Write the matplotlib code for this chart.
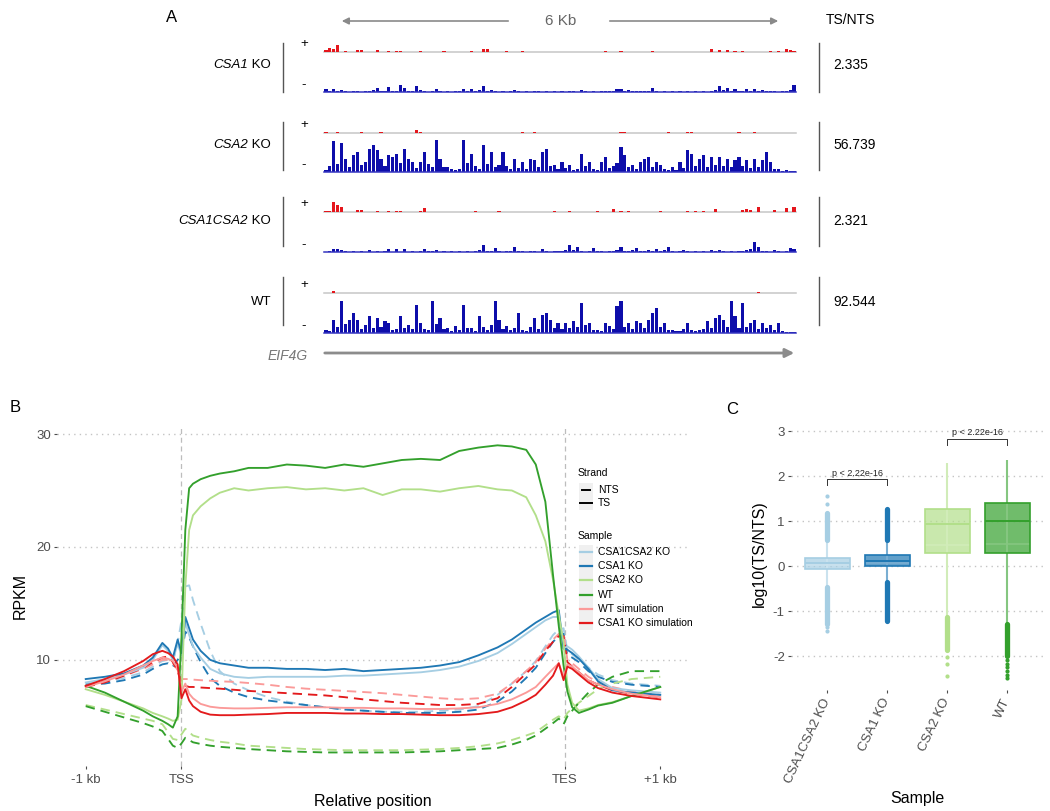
import numpy as np
import matplotlib
matplotlib.use('Agg')
import matplotlib.pyplot as plt
from matplotlib.patches import Rectangle, FancyArrowPatch
from matplotlib.lines import Line2D

plt.rcParams['font.family'] = ['Liberation Sans', 'DejaVu Sans']
plt.rcParams['axes.unicode_minus'] = False

W, H = 1050, 811

# ---------------- panel A: coverage tracks (120 bins over 6 kb) ----------------
# (italic gene part, plain part)
track_names = [('CSA1', ' KO'), ('CSA2', ' KO'), ('CSA1CSA2', ' KO'), ('', 'WT')]
ts_nts_ratio = ['2.335', '56.739', '2.321', '92.544']

plus_csa1 = {0: 2, 1: 4, 2: 3, 3: 7, 5: 1.5, 8: 2, 9: 2, 13: 2, 16: 1.5, 18: 1.5, 19: 1.5, 24: 1.5,
             30: 1.5, 37: 1.5, 40: 3, 41: 3, 46: 1, 50: 1, 71: 1.5, 75: 1.5, 83: 1, 98: 3, 100: 2,
             102: 2, 104: 1, 106: 1, 113: 1, 115: 1.5, 117: 3, 118: 2, 119: 1}
plus_csa2 = {0: 1, 3: 1, 9: 1, 14: 1, 23: 3, 24: 1.5, 50: 1, 53: 1, 75: 1.5, 76: 1, 87: 1,
             92: 1.5, 93: 1, 105: 1, 109: 1}
plus_csa1csa2 = {0: 1, 1: 1, 2: 10, 3: 7, 4: 5, 8: 2, 9: 2, 13: 1, 16: 1, 18: 1, 19: 1, 24: 1,
                 25: 4, 38: 1, 44: 1, 58: 1, 62: 1, 69: 1, 73: 3, 75: 1, 77: 1, 85: 1, 92: 1,
                 94: 1, 96: 1, 99: 3, 106: 2, 107: 3, 108: 1.5, 110: 5, 114: 1.5, 117: 4, 119: 5}
plus_wt = {2: 2, 110: 1.5}

minus_csa1 = [3, 1, 3, 1, 2, 1, 0, 1, 1, 0, 1, 1, 2, 4, 1, 1, 5, 1, 1, 7,
              4, 1, 1, 6, 2, 1, 0, 1, 3, 1, 0, 1, 0, 1, 1, 3, 1, 3, 1, 2,
              6, 1, 2, 1, 0, 1, 0, 1, 2, 1, 0, 1, 0, 1, 1, 0, 1, 0, 1, 0,
              1, 0, 1, 1, 0, 2, 1, 0, 1, 0, 1, 1, 1, 1, 3, 3, 1, 2, 1, 1,
              1, 1, 1, 4, 1, 0, 1, 0, 1, 0, 1, 0, 1, 0, 1, 0, 1, 0, 1, 2,
              6, 2, 4, 1, 3, 1, 1, 3, 1, 3, 1, 2, 1, 1, 1, 0, 1, 1, 2, 7]
minus_csa2 = [2, 6, 31, 8, 29, 13, 5, 17, 20, 7,
              10, 23, 27, 22, 13, 6, 17, 15, 18, 9,
              23, 13, 10, 4, 10, 20, 8, 5, 32, 13,
              5, 5, 3, 2, 3, 32, 9, 18, 6, 3,
              27, 8, 20, 5, 7, 20, 6, 3, 13, 4,
              10, 3, 13, 12, 5, 20, 23, 6, 7, 3,
              10, 4, 7, 2, 3, 18, 6, 10, 3, 2,
              10, 15, 4, 6, 9, 25, 17, 5, 7, 3,
              10, 13, 15, 5, 10, 7, 3, 2, 5, 2,
              10, 4, 22, 18, 6, 13, 17, 5, 15, 7,
              15, 6, 13, 5, 12, 15, 6, 12, 4, 13,
              5, 12, 20, 10, 3, 3, 1, 2, 1, 1]
minus_csa1csa2 = [0, 1, 3, 3, 2, 1, 0, 1, 0, 1, 0, 2, 0, 1, 0, 1, 3, 0, 3, 0,
                  3, 0, 1, 0, 1, 3, 1, 1, 2, 0, 1, 0, 1, 0, 1, 0, 1, 0, 1, 2,
                  7, 1, 1, 4, 1, 0, 1, 1, 5, 1, 1, 0, 1, 1, 0, 3, 1, 0, 1, 1,
                  1, 2, 7, 2, 5, 1, 0, 1, 4, 1, 1, 0, 1, 1, 2, 5, 1, 1, 2, 4,
                  1, 1, 2, 1, 3, 1, 2, 5, 1, 0, 1, 2, 1, 0, 1, 0, 1, 0, 2, 1,
                  2, 1, 0, 1, 0, 1, 1, 2, 3, 10, 5, 1, 1, 0, 2, 1, 0, 1, 4, 3]
minus_wt = [3, 2, 13, 6, 32, 9, 13, 20, 13, 4,
            8, 17, 5, 15, 6, 12, 10, 3, 4, 17,
            5, 8, 4, 28, 10, 4, 3, 32, 9, 15,
            4, 5, 2, 7, 3, 28, 5, 5, 2, 17,
            6, 3, 8, 32, 13, 4, 7, 3, 5, 20,
            3, 2, 6, 15, 4, 18, 20, 13, 5, 10,
            4, 10, 5, 12, 6, 30, 8, 10, 3, 3,
            2, 10, 7, 4, 27, 32, 6, 10, 4, 12,
            10, 5, 13, 20, 25, 6, 10, 3, 3, 2,
            2, 4, 10, 3, 2, 3, 4, 12, 5, 15,
            18, 13, 6, 32, 17, 5, 30, 6, 10, 13,
            4, 10, 5, 8, 3, 10, 2, 1, 1, 1]

plus_tracks = [plus_csa1, plus_csa2, plus_csa1csa2, plus_wt]
minus_tracks = [minus_csa1, minus_csa2, minus_csa1csa2, minus_wt]

# ---------------- panel B: metagene profiles ----------------
x_pos = [-1.0, -0.8, -0.6, -0.4, -0.3, -0.2, -0.14, -0.09, -0.04, 0.0, 0.04, 0.08, 0.12, 0.2,
         0.3, 0.4, 0.55, 0.7, 0.9, 1.1, 1.3, 1.5, 1.7, 1.9, 2.1, 2.3, 2.5, 2.7, 2.9, 3.1,
         3.3, 3.45, 3.6, 3.7, 3.8, 3.88, 3.94, 3.99, 4.03, 4.08, 4.15, 4.25, 4.35, 4.5, 4.7, 5.0]

ts_csa1csa2 = [8.0, 8.3, 8.7, 9.3, 10.0, 11.3, 10.8, 10.0, 11.4, 10.4, 13.3, 12.2, 11.2, 10.2,
               9.2, 8.8, 8.5, 8.4, 8.5, 8.5, 8.5, 8.5, 8.6, 8.6, 8.7, 8.8, 8.9, 9.1, 9.4, 9.9,
               10.6, 11.4, 12.3, 12.9, 13.5, 13.8, 13.8, 11.0, 11.2, 10.9, 10.3, 9.3, 8.3, 7.5, 7.3, 7.1]
nts_csa1csa2 = [7.9, 8.1, 8.4, 8.9, 9.4, 9.9, 10.0, 9.8, 11.5, 13.5, 16.5, 16.6, 15.3, 13.2,
                10.8, 9.0, 7.9, 7.3, 6.7, 6.3, 6.0, 5.8, 5.6, 5.5, 5.4, 5.4, 5.4, 5.5, 5.6, 5.9,
                6.9, 7.9, 9.0, 9.9, 11.2, 12.2, 12.7, 12.8, 10.8, 10.5, 10.0, 9.3, 8.7, 8.2, 7.9, 7.7]
ts_csa1 = [8.3, 8.5, 8.8, 9.5, 10.2, 11.5, 11.0, 10.2, 11.8, 10.6, 13.8, 12.8, 11.8, 10.8,
           10.0, 9.7, 9.5, 9.3, 9.3, 9.2, 9.2, 9.1, 9.2, 9.0, 9.1, 9.2, 9.3, 9.5, 9.8, 10.4,
           11.1, 11.8, 12.7, 13.3, 13.8, 14.2, 14.4, 11.0, 10.9, 10.6, 10.1, 9.2, 8.1, 7.3, 7.1, 6.9]
nts_csa1 = [7.8, 7.9, 8.2, 8.7, 9.2, 9.6, 9.7, 9.4, 10.0, 10.5, 12.5, 12.0, 11.2, 9.8,
            8.4, 7.7, 7.1, 6.7, 6.4, 6.2, 6.0, 5.8, 5.6, 5.5, 5.4, 5.3, 5.3, 5.3, 5.4, 5.6,
            6.3, 7.2, 8.4, 9.3, 10.6, 11.6, 12.1, 12.3, 10.4, 10.2, 9.8, 9.0, 8.5, 8.05, 7.8, 7.6]
ts_csa2 = [7.4, 6.9, 6.3, 5.7, 5.3, 5.0, 4.8, 4.6, 4.7, 6.5, 16.5, 21.5, 22.8, 23.6,
           24.3, 24.8, 25.2, 25.0, 25.2, 25.3, 25.1, 25.2, 25.0, 25.2, 24.6, 25.1, 25.1, 24.9, 25.2, 25.4,
           25.1, 25.0, 24.4, 22.8, 20.5, 17.1, 14.0, 11.5, 7.8, 6.2, 5.5, 5.7, 6.0, 6.25, 6.8, 7.6]
nts_csa2 = [6.0, 5.6, 5.2, 4.8, 4.6, 4.3, 3.6, 3.0, 2.9, 3.4, 3.9, 3.6, 3.3, 3.1,
            2.9, 2.75, 2.6, 2.4, 2.3, 2.2, 2.1, 2.05, 2.0, 2.0, 2.0, 2.0, 2.05, 2.1, 2.2, 2.35,
            2.6, 2.9, 3.3, 3.6, 4.2, 4.7, 5.0, 4.7, 5.3, 5.7, 6.2, 6.8, 7.4, 7.9, 8.3, 8.5]
ts_wt = [7.7, 7.1, 6.3, 5.5, 5.0, 4.6, 4.3, 4.0, 5.0, 12.0, 21.5, 25.2, 25.6, 26.0,
         26.3, 26.5, 26.7, 27.0, 27.0, 27.3, 27.2, 27.0, 27.3, 27.1, 27.4, 27.7, 27.8, 27.7, 28.5, 28.8,
         29.0, 28.9, 28.6, 27.3, 24.0, 17.5, 13.0, 9.5, 7.2, 5.8, 5.3, 5.6, 5.95, 6.2, 6.8, 7.6]
nts_wt = [5.9, 5.4, 4.9, 4.4, 4.1, 3.7, 3.0, 2.4, 2.2, 2.6, 3.1, 2.9, 2.7, 2.55,
          2.4, 2.3, 2.2, 2.1, 2.0, 1.9, 1.85, 1.8, 1.8, 1.8, 1.8, 1.8, 1.85, 1.9, 2.0, 2.1,
          2.2, 2.5, 2.9, 3.3, 3.9, 4.4, 4.8, 4.3, 5.0, 5.5, 6.2, 7.1, 7.8, 8.5, 9.0, 9.0]
ts_wt_sim = [7.6, 8.1, 8.7, 9.5, 9.9, 10.2, 10.1, 9.9, 9.3, 7.2, 7.9, 7.0, 6.6, 6.1,
             5.85, 5.75, 5.7, 5.7, 5.75, 5.8, 5.8, 5.8, 5.75, 5.75, 5.7, 5.7, 5.65, 5.65, 5.7, 5.8,
             6.1, 6.5, 7.1, 7.6, 8.5, 9.2, 9.7, 8.5, 9.6, 9.4, 8.9, 8.2, 7.8, 7.4, 7.0, 6.7]
nts_wt_sim = [7.7, 8.1, 8.6, 9.2, 9.6, 10.0, 10.0, 9.7, 9.1, 8.3, 8.3, 8.3, 8.25, 8.2,
              8.15, 8.1, 8.05, 7.95, 7.8, 7.6, 7.45, 7.35, 7.25, 7.15, 7.05, 6.9, 6.75, 6.6, 6.5, 6.6,
              7.0, 7.9, 9.0, 9.8, 11.0, 11.8, 12.3, 12.4, 10.0, 9.7, 9.2, 8.5, 8.0, 7.6, 7.2, 6.9]
ts_csa1_sim = [7.7, 8.3, 9.0, 9.9, 10.5, 10.8, 10.6, 10.3, 9.6, 6.6, 7.4, 6.4, 5.9, 5.4,
               5.15, 5.1, 5.1, 5.15, 5.2, 5.3, 5.3, 5.3, 5.25, 5.25, 5.2, 5.2, 5.15, 5.1, 5.1, 5.2,
               5.4, 5.8, 6.4, 6.9, 7.8, 8.6, 9.7, 8.2, 9.4, 9.2, 8.7, 8.0, 7.5, 7.1, 6.8, 6.5]
nts_csa1_sim = [7.6, 8.0, 8.6, 9.3, 9.8, 10.2, 10.3, 9.8, 9.0, 8.0, 7.7, 7.6, 7.6, 7.55,
                7.5, 7.45, 7.35, 7.25, 7.15, 7.05, 6.95, 6.85, 6.7, 6.5, 6.35, 6.2, 6.1, 6.0, 6.0, 6.1,
                6.6, 7.6, 8.8, 9.6, 10.8, 11.6, 12.1, 12.1, 9.8, 9.4, 8.9, 8.2, 7.8, 7.3, 7.0, 6.7]

b_samples = ['CSA1CSA2 KO', 'CSA1 KO', 'CSA2 KO', 'WT', 'WT simulation', 'CSA1 KO simulation']
b_colors = ['#A6CEE3', '#1F78B4', '#B2DF8A', '#33A02C', '#FB9A99', '#E31A1C']
b_ts = [ts_csa1csa2, ts_csa1, ts_csa2, ts_wt, ts_wt_sim, ts_csa1_sim]
b_nts = [nts_csa1csa2, nts_csa1, nts_csa2, nts_wt, nts_wt_sim, nts_csa1_sim]

# ---------------- panel C: log10(TS/NTS) boxplots ----------------
c_samples = ['CSA1CSA2 KO', 'CSA1 KO', 'CSA2 KO', 'WT']
c_colors = ['#A6CEE3', '#1F78B4', '#B2DF8A', '#33A02C']
box_q1 = [-0.07, 0.00, 0.30, 0.30]
box_med = [0.07, 0.11, 0.93, 1.00]
box_q3 = [0.19, 0.24, 1.27, 1.40]
box_inner = [0.03, 0.06, 0.48, 0.50]
whisk_lo = [-0.45, -0.35, -1.12, -1.28]
whisk_hi = [0.57, 0.57, 2.28, 2.35]
band_hi = [(0.58, 1.19), (0.58, 1.26), None, None]
band_lo = [(-1.28, -0.46), (-1.21, -0.36), (-1.86, -1.13), (-2.0, -1.29)]
sparse_fliers = [[1.37, 1.55, -1.36, -1.43],
                 [],
                 [-2.02, -2.18, -2.44],
                 [-2.09, -2.18, -2.25, -2.33, -2.41, -2.49]]
sig_pairs = [(1, 2), (3, 4)]
sig_y = [1.93, 2.83]
sig_label = 'p < 2.22e-16'


def mix_white(c, f):
    r, g, b = matplotlib.colors.to_rgb(c)
    return (r + (1 - r) * f, g + (1 - g) * f, b + (1 - b) * f)


def fx(px):
    return px / W


def fy(py):
    return 1 - py / H


def ftext(x, y, s, **kw):
    return fig.text(fx(x), fy(y), s, **kw)


def fline(xs, ys, **kw):
    fig.add_artist(Line2D([fx(v) for v in xs], [fy(v) for v in ys], **kw))


fig = plt.figure(figsize=(W / 100, H / 100), dpi=100)
renderer = fig.canvas.get_renderer()

# ---------------- draw panel A ----------------
red_base = [52, 133, 212, 293]
blue_base = [92, 172, 252, 333]
label_y = [65, 145, 221, 302]
bar_span = [(43, 92), (122, 170), (197, 246), (277, 325)]
red_c = '#e5161c'
blue_c = '#0d0daa'
nb = 120

for i in range(4):
    axp = fig.add_axes([fx(324), fy(red_base[i]), 472 / W, 11 / H])
    hp = np.zeros(nb)
    for k, v in plus_tracks[i].items():
        hp[k] = v
    axp.bar(np.arange(nb) + 0.1, hp, width=0.8, align='edge', color=red_c, linewidth=0)
    axp.axhline(0, color='#c6c6c6', lw=1.1, clip_on=False, zorder=0)
    axp.set_xlim(0, nb)
    axp.set_ylim(0, 11)
    axp.axis('off')

    axm = fig.add_axes([fx(324), fy(blue_base[i]), 472 / W, 33 / H])
    axm.bar(np.arange(nb) + 0.1, minus_tracks[i], width=0.8, align='edge', color=blue_c,
            linewidth=0)
    axm.axhline(0, color='#3535c0', lw=1.1, clip_on=False)
    axm.set_xlim(0, nb)
    axm.set_ylim(0, 33)
    axm.axis('off')

    ital, plain = track_names[i]
    t = ftext(271, label_y[i], plain, ha='right', va='center', fontsize=9.5)
    if ital:
        w = t.get_window_extent(renderer).width
        ftext(271 - w, label_y[i], ital, ha='right', va='center', fontsize=9.5,
              style='italic')
    ftext(304, red_base[i] - 8, '+', ha='center', va='center', fontsize=9.5)
    ftext(304, blue_base[i] - 7, '-', ha='center', va='center', fontsize=9.5)
    fline([283, 283], bar_span[i], color='#555555', lw=1.0)
    fline([819, 819], bar_span[i], color='#555555', lw=1.0)
    ftext(833, label_y[i], ts_nts_ratio[i], ha='left', va='center', fontsize=10)

ftext(172, 17, 'A', ha='center', va='center', fontsize=12)
ftext(850, 20, 'TS/NTS', ha='center', va='center', fontsize=10)
ftext(561, 21, '6 Kb', ha='center', va='center', fontsize=11, color='#666666')
for a, b in [((511, 21), (339, 21)), ((607, 21), (781, 21))]:
    fig.add_artist(FancyArrowPatch((fx(a[0]), fy(a[1])), (fx(b[0]), fy(b[1])),
                                   transform=fig.transFigure, arrowstyle='-|>',
                                   mutation_scale=10, color='#8a8a8a', lw=1.2))
fig.add_artist(FancyArrowPatch((fx(322), fy(353)), (fx(797), fy(353)),
                               transform=fig.transFigure, arrowstyle='-|>',
                               mutation_scale=13, color='#8c8c8c', lw=2.0))
ftext(308, 356, 'EIF4G', ha='right', va='center', fontsize=10, color='#777777',
      style='italic')

# ---------------- draw panel B ----------------
axB = fig.add_axes([fx(57), fy(766), 632 / W, 341 / H])
for s in axB.spines.values():
    s.set_visible(False)
axB.set_xlim(-1.3, 5.3)
axB.set_ylim(0.6, 30.8)
axB.set_yticks([10, 20, 30])
axB.set_xticks([-1, 0, 4, 5])
axB.set_xticklabels(['-1 kb', 'TSS', 'TES', '+1 kb'])
axB.yaxis.grid(True, linestyle=(0, (1, 3)), color='#c4c4c4', lw=1.0)
axB.set_axisbelow(True)
for xv in [0, 4]:
    axB.axvline(xv, color='#bdbdbd', linestyle=(0, (4, 3)), lw=0.9, zorder=0)
axB.tick_params(length=2.5, width=0.8, color='#4d4d4d', labelcolor='#4d4d4d',
                labelsize=9.5, pad=2)
axB.tick_params(axis='x', pad=3)

for i in range(len(b_samples)):
    axB.plot(x_pos, b_nts[i], color=b_colors[i], lw=1.35, linestyle=(0, (5, 3.2)))
for i in range(len(b_samples)):
    axB.plot(x_pos, b_ts[i], color=b_colors[i], lw=1.35)

axB.set_ylabel('RPKM', fontsize=11.5, labelpad=6)
axB.set_xlabel('Relative position', fontsize=11.5, labelpad=6)
ftext(10, 408, 'B', ha='left', va='center', fontsize=12)

# legend of panel B
ftext(578, 473, 'Strand', ha='left', va='center', fontsize=7.5)
fig.add_artist(Rectangle((fx(579), fy(510)), 14 / W, 27 / H, transform=fig.transFigure,
                         facecolor='#f0f0f0', edgecolor='none'))
fline([582, 590], [490, 490], color='black', lw=1.4)
fline([580, 592], [503, 503], color='black', lw=1.4)
ftext(598, 490, 'NTS', ha='left', va='center', fontsize=7.5)
ftext(598, 503, 'TS', ha='left', va='center', fontsize=7.5)
ftext(578, 536, 'Sample', ha='left', va='center', fontsize=7.5)
fig.add_artist(Rectangle((fx(579), fy(630)), 14 / W, 85 / H, transform=fig.transFigure,
                         facecolor='#f0f0f0', edgecolor='none'))
for i, name in enumerate(b_samples):
    yy = 552 + 14.2 * i
    fline([580, 592], [yy, yy], color=b_colors[i], lw=1.6)
    ftext(598, yy, name, ha='left', va='center', fontsize=7.5)

# ---------------- draw panel C ----------------
axC = fig.add_axes([fx(791), fy(690), 252 / W, 272.5 / H])
for s in axC.spines.values():
    s.set_visible(False)
axC.set_xlim(0.4, 4.6)
axC.set_ylim(-2.75, 3.3)
axC.set_yticks([-2, -1, 0, 1, 2, 3])
axC.set_xticks([1, 2, 3, 4])
axC.set_xticklabels(c_samples, rotation=65, ha='right', va='center', rotation_mode='anchor')
axC.yaxis.grid(True, linestyle=(0, (1, 3)), color='#c4c4c4', lw=1.0)
axC.set_axisbelow(True)
axC.tick_params(length=2.5, width=0.8, color='#4d4d4d', labelcolor='#4d4d4d',
                labelsize=9.5, pad=2)
axC.tick_params(axis='x', pad=4)

bw = 0.75
for i in range(4):
    xc = i + 1
    c = c_colors[i]
    light = mix_white(c, 0.4)
    axC.add_patch(Rectangle((xc - bw / 2, box_q1[i]), bw, box_q3[i] - box_q1[i],
                            facecolor=c, alpha=0.7, edgecolor='none', zorder=2))
    axC.vlines(xc, whisk_lo[i], whisk_hi[i], color=light, lw=1.5, zorder=3)
    axC.hlines(box_inner[i], xc - bw / 2, xc + bw / 2, color=light, lw=1.2, zorder=3)
    axC.add_patch(Rectangle((xc - bw / 2, box_q1[i]), bw, box_q3[i] - box_q1[i],
                            facecolor='none', edgecolor=c, lw=1.2, zorder=4))
    axC.hlines(box_med[i], xc - bw / 2, xc + bw / 2, color=c, lw=1.4, zorder=4)
    for band in [band_hi[i], band_lo[i]]:
        if band is not None:
            axC.plot([xc, xc], band, color=c, lw=3.8, solid_capstyle='round', zorder=3)
    if sparse_fliers[i]:
        axC.scatter([xc] * len(sparse_fliers[i]), sparse_fliers[i], s=9, color=c,
                    linewidths=0, zorder=3)

for (a, b), yv in zip(sig_pairs, sig_y):
    axC.plot([a, a, b, b], [yv - 0.13, yv, yv, yv - 0.13], color='#333333', lw=0.7)
    axC.text((a + b) / 2, yv + 0.03, sig_label, ha='center', va='bottom', fontsize=6.5,
             color='#222222')

axC.set_ylabel('log10(TS/NTS)', fontsize=11.5, labelpad=4)
axC.set_xlabel('Sample', fontsize=11.5, labelpad=4)
ftext(726, 409, 'C', ha='left', va='center', fontsize=12)

fig.savefig('out.png', dpi=100)
